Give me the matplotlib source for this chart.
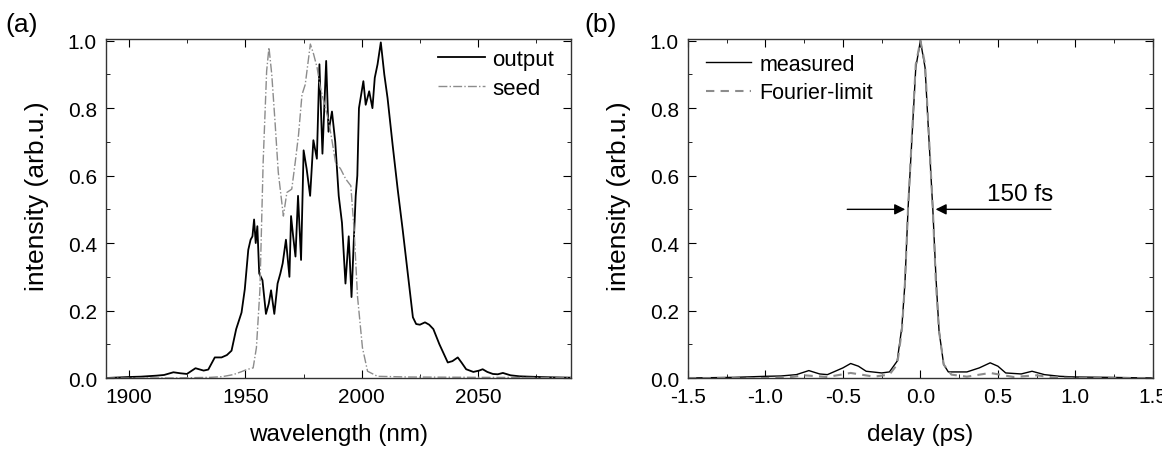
import matplotlib
matplotlib.use("Agg")
import matplotlib.pyplot as plt
from matplotlib.ticker import MultipleLocator

plt.rcParams['font.family'] = ['Liberation Sans', 'DejaVu Sans']

# ---- (a) spectra ----
out_wl = [1890, 1900, 1905, 1911.8, 1915, 1919, 1922, 1924.8, 1928.5, 1932, 1934, 1936.8, 1939.7,
          1942, 1944, 1946, 1948.3, 1949.7, 1951.2, 1952.2, 1953, 1953.7, 1954.4, 1955.1, 1955.9,
          1957.3, 1958.8, 1960, 1961, 1962.4, 1963.8, 1965, 1966, 1967.4, 1968.9, 1969.6, 1970.5,
          1971.5, 1972.6, 1973.9, 1975, 1976.3, 1977.8, 1979.2, 1980.7, 1981.8, 1983.1, 1984.7,
          1985.7, 1987.2, 1988.6, 1990.1, 1991.5, 1993, 1994.4, 1995.6, 1996.6, 1997.4, 1998.1,
          1998.8, 2000.7, 2001.7, 2003.2, 2004.6, 2005.6, 2006.8, 2008.2, 2009.7, 2011.1, 2013.3,
          2015.5, 2017.6, 2019.8, 2022, 2023.4, 2025, 2027.2, 2029, 2030.8, 2033.4, 2037, 2039,
          2041.3, 2043, 2044.9, 2048, 2050.5, 2052, 2054, 2056.4, 2058.5, 2060.7, 2064, 2067.9,
          2072, 2076.5, 2082, 2090]
out_int = [0.0, 0.003, 0.004, 0.007, 0.009, 0.017, 0.014, 0.012, 0.029, 0.022, 0.025, 0.061, 0.061,
           0.068, 0.081, 0.145, 0.194, 0.263, 0.38, 0.41, 0.42, 0.47, 0.40, 0.45, 0.31,
           0.29, 0.19, 0.22, 0.26, 0.19, 0.28, 0.31, 0.34, 0.41, 0.30, 0.48, 0.42,
           0.36, 0.54, 0.35, 0.675, 0.62, 0.54, 0.705, 0.65, 0.93, 0.665, 0.94,
           0.73, 0.79, 0.70, 0.54, 0.46, 0.28, 0.42, 0.24, 0.41, 0.54, 0.60,
           0.80, 0.88, 0.81, 0.85, 0.80, 0.89, 0.93, 0.995, 0.90, 0.83, 0.69,
           0.557, 0.44, 0.31, 0.18, 0.16, 0.158, 0.165, 0.158, 0.145, 0.10, 0.046, 0.05,
           0.061, 0.045, 0.026, 0.018, 0.022, 0.026, 0.018, 0.012, 0.011, 0.015, 0.008, 0.005,
           0.004, 0.003, 0.002, 0.001]

seed_wl = [1890, 1920, 1935, 1940, 1944.7, 1948, 1950.5, 1953.3, 1954.7, 1956.2, 1957.6, 1959.1,
           1960.1, 1961.3, 1962.7, 1964.1, 1966.3, 1967.8, 1969.9, 1971.4, 1972.8, 1974.3, 1975.7,
           1977.9, 1979.3, 1980.8, 1982.2, 1983.7, 1985.8, 1987.3, 1988.7, 1990.9, 1993.1, 1995.3,
           1996.7, 1998.2, 2000.3, 2002.5, 2006.8, 2020, 2050, 2090]
seed_int = [0.0, 0.0, 0.002, 0.004, 0.01, 0.018, 0.025, 0.03, 0.09, 0.26, 0.64, 0.91,
            0.98, 0.90, 0.76, 0.61, 0.48, 0.55, 0.56, 0.64, 0.72, 0.84, 0.87,
            0.99, 0.96, 0.92, 0.86, 0.82, 0.76, 0.70, 0.64, 0.62, 0.59, 0.57,
            0.44, 0.24, 0.09, 0.02, 0.005, 0.003, 0.002, 0.001]

# ---- (b) autocorrelation ----
delay = [-1.5, -1.2, -1.0, -0.9, -0.8, -0.72, -0.65, -0.6, -0.5, -0.45, -0.4, -0.35, -0.25, -0.2,
         -0.15, -0.12, -0.1, -0.08, -0.05, -0.03, 0.0, 0.03, 0.05, 0.08, 0.1, 0.12, 0.15, 0.18,
         0.3, 0.38, 0.45, 0.5, 0.55, 0.65, 0.72, 0.8, 0.9, 1.0, 1.2, 1.5]
measured = [0.0, 0.002, 0.005, 0.006, 0.01, 0.022, 0.012, 0.01, 0.03, 0.043, 0.035, 0.02, 0.015, 0.018,
            0.05, 0.15, 0.28, 0.5, 0.75, 0.92, 1.0, 0.92, 0.75, 0.5, 0.3, 0.14, 0.04, 0.018,
            0.018, 0.03, 0.045, 0.035, 0.015, 0.012, 0.02, 0.01, 0.005, 0.003, 0.002, 0.0]

fl_delay = [-1.5, -1.0, -0.85, -0.75, -0.6, -0.45, -0.3, -0.2, -0.15, -0.12, -0.1, -0.08, -0.05,
            -0.03, 0.0, 0.03, 0.05, 0.08, 0.1, 0.12, 0.15, 0.2, 0.3, 0.45, 0.6, 0.75, 0.85, 1.0, 1.5]
fourier = [0.0, 0.0, 0.002, 0.008, 0.003, 0.015, 0.004, 0.01, 0.04, 0.14, 0.28, 0.5, 0.76,
           0.93, 1.0, 0.93, 0.76, 0.5, 0.28, 0.14, 0.04, 0.01, 0.004, 0.015, 0.003, 0.008, 0.002, 0.0, 0.0]

TICK_FS = 15
LABEL_FS = 17.5

fig = plt.figure(figsize=(11.62, 4.52), dpi=100)
axA = fig.add_axes([0.0912, 0.1615, 0.4002, 0.75])
axB = fig.add_axes([0.592, 0.1615, 0.4002, 0.75])

axA.plot(out_wl, out_int, color='black', lw=1.3, label='output')
axA.plot(seed_wl, seed_int, color='#8c8c8c', lw=1.0, ls='-.', label='seed')
axA.set_xlim(1890, 2090)
axA.xaxis.set_major_locator(MultipleLocator(50))
axA.xaxis.set_minor_locator(MultipleLocator(25))
axA.set_xlabel('wavelength (nm)', fontsize=LABEL_FS, labelpad=12)
axA.legend(loc='upper left', bbox_to_anchor=(0.714, 0.97), frameon=False, fontsize=16,
           handlelength=2.1, borderaxespad=0, borderpad=0, handletextpad=0.35,
           labelspacing=0.36)

axB.plot(delay, measured, color='black', lw=1.0, label='measured')
axB.plot(fl_delay, fourier, color='#8c8c8c', lw=1.5, ls=(0, (4, 3)), label='Fourier-limit')
axB.set_xlim(-1.5, 1.5)
axB.xaxis.set_major_locator(MultipleLocator(0.5))
axB.xaxis.set_minor_locator(MultipleLocator(0.25))
axB.xaxis.set_major_formatter(plt.FuncFormatter(lambda v, p: f'{v:.1f}'))
axB.set_xlabel('delay (ps)', fontsize=LABEL_FS, labelpad=12)
axB.legend(loc='upper left', bbox_to_anchor=(0.039, 0.956), frameon=False, fontsize=15.5,
           handlelength=2.1, borderaxespad=0, borderpad=0, handletextpad=0.37,
           labelspacing=0.34)

axB.annotate('', xy=(-0.08, 0.5), xytext=(-0.49, 0.5),
             arrowprops=dict(arrowstyle='-|>', color='black', lw=1.0, mutation_scale=16))
axB.annotate('', xy=(0.08, 0.5), xytext=(0.86, 0.5),
             arrowprops=dict(arrowstyle='-|>', color='black', lw=1.0, mutation_scale=16))
axB.text(0.427, 0.513, '150 fs', fontsize=17.5, ha='left', va='bottom')

for ax in (axA, axB):
    ax.set_ylim(0, 1.005)
    ax.yaxis.set_major_locator(MultipleLocator(0.2))
    ax.yaxis.set_minor_locator(MultipleLocator(0.1))
    ax.yaxis.set_major_formatter(plt.FuncFormatter(lambda v, p: f'{v:.1f}'))
    ax.set_ylabel('intensity (arb.u.)', fontsize=19)
    ax.yaxis.set_label_coords(-0.122, 0.54)
    ax.tick_params(which='both', direction='in', top=True, right=True, labelsize=TICK_FS, pad=6.5)
    ax.tick_params(which='major', length=6)
    ax.tick_params(which='minor', length=3)
    for s in ax.spines.values():
        s.set_linewidth(1.0)
        s.set_color('#333333')

fig.text(0.005, 0.93, '(a)', fontsize=19)
fig.text(0.503, 0.93, '(b)', fontsize=19)

fig.savefig('out.png', dpi=100)
